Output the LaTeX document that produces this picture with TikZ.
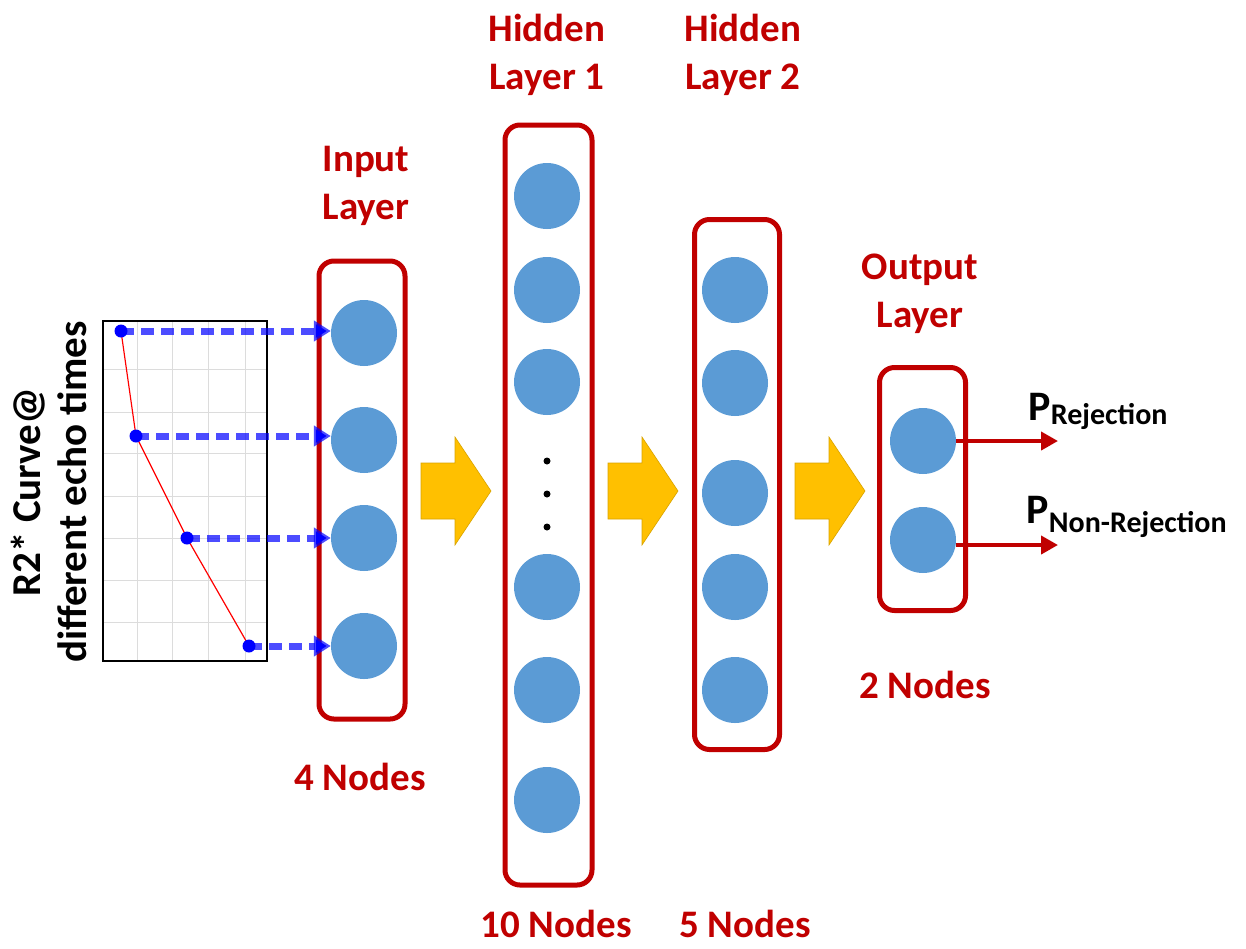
\documentclass[tikz,border=0pt]{standalone}
\usepackage{fontspec}
\setmainfont{Carlito}
\usetikzlibrary{arrows.meta}
\definecolor{darkred}{HTML}{C00000}
\definecolor{neuronblue}{HTML}{5B9BD5}
\definecolor{arrowgold}{HTML}{FFC000}
\definecolor{gridgray}{HTML}{DCDCDC}
\tikzset{
  neuron/.style={circle, fill=neuronblue, minimum size=66pt, inner sep=0pt},
  layerbox/.style={draw=darkred, line width=5pt, rounded corners=15pt, inner sep=0pt},
  title/.style={text=darkred, font=\fontsize{39}{48}\selectfont\bfseries, align=center},
  count/.style={text=darkred, font=\fontsize{39}{48}\selectfont\bfseries, anchor=base},
  feed/.style={draw=blue, draw opacity=0.7, line width=7pt, dash pattern=on 13pt off 7pt,
    -{Triangle[length=17pt,width=20pt]}},
  outarrow/.style={draw=darkred, line width=4pt, -{Triangle[length=17pt,width=18pt]}},
  blockarrow/.style={fill=arrowgold, draw=arrowgold!85!black, line width=0.6pt},
  sample/.style={circle, fill=blue, minimum size=13pt, inner sep=0pt},
}
\begin{document}
\begin{tikzpicture}[x=1pt, y=-1pt]
  \useasboundingbox (0,0) rectangle (1246,948);

  % layer boxes
  \node[layerbox, minimum width=86pt, minimum height=458pt] (inbox) at (362,490) {};
  \node[layerbox, minimum width=87pt, minimum height=760pt] (hoxa) at (548.5,505) {};
  \node[layerbox, minimum width=85pt, minimum height=530pt] (hoxb) at (737,484.5) {};
  \node[layerbox, minimum width=86pt, minimum height=243pt] (outbox) at (922.5,489) {};

  % neurons
  \foreach \y [count=\i] in {333,440,538,646}
    \node[neuron] (in\i) at (364,\y) {};
  \foreach \y [count=\i] in {196,290,382,587,690,800}
    \node[neuron] (ha\i) at (547,\y) {};
  \foreach \y [count=\i] in {290,383,493,587,690}
    \node[neuron] (hb\i) at (735,\y) {};
  \foreach \y [count=\i] in {441,540}
    \node[neuron] (out\i) at (923,\y) {};
  \foreach \y in {461,494,527}
    \fill (547,\y) circle (3.5pt);

  % block arrows between layers
  \foreach \ax in {421,608,795}
    \draw[blockarrow] (\ax,463) -- ++(34,0) -- ++(0,-26) -- ++(36,54)
      -- ++(-36,54) -- ++(0,-26) -- ++(-34,0) -- cycle;

  % R2* curve
  \foreach \gx in {137,172,208,245}
    \draw[gridgray, line width=1pt] (\gx,321) -- (\gx,661);
  \foreach \gy in {369,412,453,496,538,580,622}
    \draw[gridgray, line width=1pt] (103,\gy) -- (267,\gy);
  \draw[black, line width=2pt] (103,321) rectangle (267,661);
  \coordinate (p1) at (121,331);
  \coordinate (p2) at (136,436);
  \coordinate (p3) at (187,538);
  \coordinate (p4) at (249,646);
  \draw[red, line width=1.2pt] (p1) -- (p2) -- (p3) -- (p4);
  \foreach \i in {1,...,4}
    \draw[feed] (p\i) -- (p\i -| in\i.west);
  \foreach \i in {1,...,4}
    \node[sample] (s\i) at (p\i) {};

  \node[rotate=90, align=center, font=\fontsize{41}{46}\selectfont\bfseries] (curvelabel)
    at (49,492) {R2* Curve@\\different echo times};

  % outputs
  \coordinate (prej) at (1058,441);
  \coordinate (pnon) at (1058,545);
  \draw[outarrow] (out1.east) -- (prej);
  \draw[outarrow] (out2.east |- pnon) -- (pnon);
  \node[anchor=base west, font=\fontsize{42}{48}\selectfont\bfseries] (rejlabel) at (1025,420)
    {P\raisebox{-4pt}{\fontsize{30}{36}\selectfont Rejection}};
  \node[anchor=base west, font=\fontsize{42}{48}\selectfont\bfseries] (nonlabel) at (1023,523)
    {P\raisebox{-9pt}{\fontsize{30}{36}\selectfont Non-Rejection}};

  % titles and counts
  \node[title] (intitle) at (366,186) {Input\\Layer};
  \node[title] (hatitle) at (547,55) {Hidden\\Layer 1};
  \node[title] (hbtitle) at (743,55) {Hidden\\Layer 2};
  \node[title] (outtitle) at (920,294) {Output\\Layer};
  \node[count] (incount) at (360,790) {4 Nodes};
  \node[count] (hacount) at (556,937) {10 Nodes};
  \node[count] (hbcount) at (745,937) {5 Nodes};
  \node[count] (outcount) at (925,698) {2 Nodes};
\end{tikzpicture}
\end{document}
